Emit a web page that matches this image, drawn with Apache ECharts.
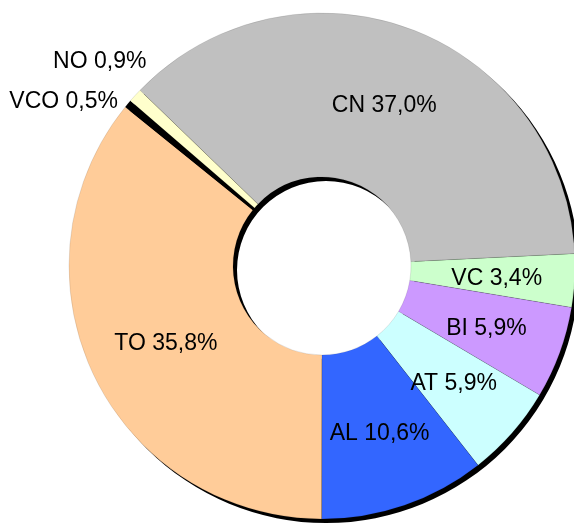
<!DOCTYPE html>
<html>
<head>
<meta charset="utf-8">
<script src="https://cdn.jsdelivr.net/npm/echarts@6/dist/echarts.min.js"></script>
<style>
  html, body { margin: 0; padding: 0; background: #fff; }
  #chart { width: 574px; height: 525px; }
</style>
</head>
<body>
<div id="chart"></div>
<script>
const categories = ["CN", "VC", "BI", "AT", "AL", "TO", "VCO", "NO"];
const shares = [37.0, 3.4, 5.9, 5.9, 10.6, 35.8, 0.5, 0.9];
const colors = ["#C0C0C0", "#CCFFCC", "#CC99FF", "#CCFFFF", "#3366FF", "#FFCC99", "#000000", "#FFFFCC"];

const fmt = v => v.toFixed(1).replace(".", ",") + "%";

// the two tiny slices get their label outside, like in the source
const outsideOffsets = { VCO: [-1, 1], NO: [20, -30] };

const pieData = categories.map((name, i) => {
  const item = { name, value: shares[i], itemStyle: { color: colors[i] } };
  if (outsideOffsets[name]) {
    item.label = { position: "outside", offset: outsideOffsets[name] };
    item.labelLine = { show: false, length: 5, length2: 0 };
  }
  return item;
});

const chart = echarts.init(document.getElementById("chart"));
chart.setOption({
  animation: false,
  backgroundColor: "#fff",
  series: [
    {
      // drop shadow of the ring
      type: "pie",
      silent: true,
      z: 1,
      center: [326, 270],
      radius: [89, 253],
      label: { show: false },
      labelLine: { show: false },
      itemStyle: { color: "#000", borderWidth: 0 },
      data: [{ name: "shadow", value: 1 }]
    },
    {
      type: "pie",
      z: 2,
      center: [322, 266],
      radius: [89, 253],
      startAngle: 136,
      clockwise: true,
      avoidLabelOverlap: false,
      itemStyle: { borderColor: "rgba(0,0,0,0.2)", borderWidth: 0.5 },
      label: {
        show: true,
        position: "inside",
        offset: [1, 3],
        color: "#000",
        fontFamily: "Liberation Sans, Arial, sans-serif",
        fontSize: 23,
        formatter: p => p.name + " " + fmt(p.value)
      },
      labelLine: { show: false },
      emphasis: { disabled: true },
      data: pieData
    }
  ]
});
</script>
</body>
</html>
